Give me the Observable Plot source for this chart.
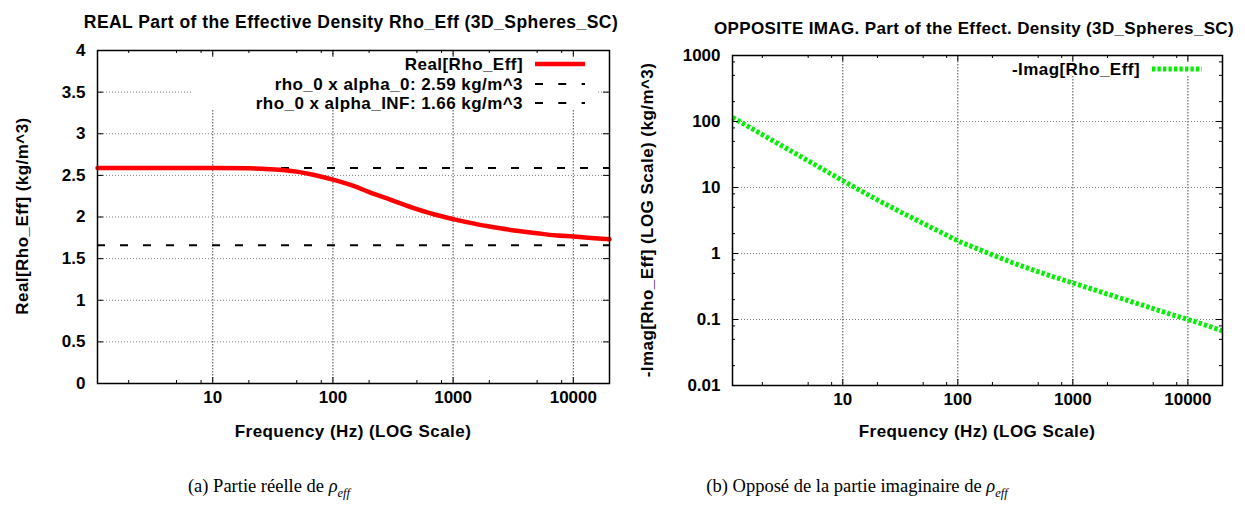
<!DOCTYPE html>
<html><head><meta charset="utf-8">
<script src="https://cdn.jsdelivr.net/npm/d3@7"></script>
<script src="https://cdn.jsdelivr.net/npm/@observablehq/plot@0.6"></script>
<style>
body{margin:0;background:#fff;}
#root{position:relative;width:1245px;height:506px;overflow:hidden;font-family:"Liberation Sans",Arial,sans-serif;color:#000;}
.abs{position:absolute;white-space:nowrap;line-height:1;}
.bold{font-weight:bold;font-size:17px;letter-spacing:0.45px;}
.ttl{font-size:17.5px;}
.ttl2{font-size:17px;letter-spacing:0.35px;}
.ctr{transform:translate(-50%,-50%);}
.rot{transform:translate(-50%,-50%) rotate(-90deg);}
.cap{font-family:"Liberation Serif","Times New Roman",serif;font-size:18.5px;transform:translate(-50%,-50%);}
.cap i sub{font-size:12.5px;}
.plot{position:absolute;top:0;}
.lbox{position:absolute;background:#fff;}
</style>
</head><body><div id="root"></div>
<script>
// ---------- data ----------
const freqReal = [1.1, 2, 5, 10, 20, 30, 40, 50, 70, 100, 150, 200, 300, 500, 700, 1000, 1500, 2000, 3000, 5000, 7000, 10000, 15000, 20000];
const realRhoEff = [2.59, 2.59, 2.59, 2.589, 2.585, 2.575, 2.562, 2.545, 2.505, 2.448, 2.37, 2.30, 2.21, 2.095, 2.03, 1.975, 1.92, 1.885, 1.845, 1.805, 1.78, 1.765, 1.745, 1.732];
const refNames = ["rho_0 x alpha_0: 2.59 kg/m^3", "rho_0 x alpha_INF: 1.66 kg/m^3"];
const refValues = [2.59, 1.66];

const freqImag = [1.1, 2, 3, 5, 10, 20, 30, 50, 70, 100, 150, 200, 300, 500, 700, 1000, 2000, 3000, 5000, 7000, 10000, 15000, 20000];
const negImagRhoEff = [115, 63.3, 42.2, 25.4, 12.7, 6.5, 4.48, 2.86, 2.13, 1.56, 1.17, 0.955, 0.724, 0.53, 0.436, 0.358, 0.243, 0.194, 0.146, 0.121, 0.100, 0.080, 0.067];

const xDomain = [1.1, 20000];
const xMajorTicks = [10, 100, 1000, 10000];
const xTickLabels = ["10", "100", "1000", "10000"];
const minorMultipliers = [2, 5, 8];
const xDecades = [1, 10, 100, 1000, 10000];
const yTicksReal = [0, 0.5, 1, 1.5, 2, 2.5, 3, 3.5, 4];
const yTickLabelsReal = ["0", "0.5", "1", "1.5", "2", "2.5", "3", "3.5", "4"];
const yTicksImag = [0.01, 0.1, 1, 10, 100, 1000];
const yTickLabelsImag = ["0.01", "0.1", "1", "10", "100", "1000"];
const yDecadesImag = [0.01, 0.1, 1, 10, 100];

const titles = ["REAL Part of the Effective Density Rho_Eff (3D_Spheres_SC)", "OPPOSITE IMAG. Part of the Effect. Density (3D_Spheres_SC)"];
const yLabels = ["Real[Rho_Eff] (kg/m^3)", "-Imag[Rho_Eff] (LOG Scale) (kg/m^3)"];
const xLabel = "Frequency (Hz) (LOG Scale)";
const seriesNames = ["Real[Rho_Eff]", "-Imag[Rho_Eff]"];

const RED = "#ff0000", GREEN = "#00f000";
const GREEN_DASH = "3.3,2.2";

// ---------- helpers ----------
const xMinor = xDecades.flatMap(d => minorMultipliers.map(m => m * d)).filter(v => v >= xDomain[0] && v <= xDomain[1]);
const yMinorImag = yDecadesImag.flatMap(d => minorMultipliers.map(m => m * d));
const realData = freqReal.map((f, i) => ({f, v: realRhoEff[i]}));
const imagData = freqImag.map((f, i) => ({f, v: negImagRhoEff[i]}));
const refData = refValues.map((v, i) => ({v, name: refNames[i]}));
const xTickData = xMajorTicks.map((v, i) => ({v, label: xTickLabels[i]}));

const FONT = '"Liberation Sans", Arial, sans-serif';
const gridStyleH = () => ({stroke: "#808080", strokeOpacity: 1, strokeWidth: 1, strokeDasharray: "1,2"});
const gridStyleV = () => ({stroke: "#666666", strokeOpacity: 1, strokeWidth: 1.2, strokeDasharray: "1.5,1.5"});

function frameTicks(W, H, mL, mR, mT, mB, xMaj, xMin, yMaj, yMin) {
  const fw = W - mL - mR, fh = H - mT - mB;
  const MAJ = 6, MIN = 3;
  const m = [];
  const st = () => ({stroke: "#000", strokeWidth: 1});
  m.push(Plot.tickX(xMaj, {x: d => d, insetTop: fh - MAJ, ...st()}));
  m.push(Plot.tickX(xMaj, {x: d => d, insetBottom: fh - MAJ, ...st()}));
  m.push(Plot.tickX(xMin, {x: d => d, insetTop: fh - MIN, ...st()}));
  m.push(Plot.tickX(xMin, {x: d => d, insetBottom: fh - MIN, ...st()}));
  m.push(Plot.tickY(yMaj, {y: d => d, insetRight: fw - MAJ, ...st()}));
  m.push(Plot.tickY(yMaj, {y: d => d, insetLeft: fw - MAJ, ...st()}));
  if (yMin.length) {
    m.push(Plot.tickY(yMin, {y: d => d, insetRight: fw - MIN, ...st()}));
    m.push(Plot.tickY(yMin, {y: d => d, insetLeft: fw - MIN, ...st()}));
  }
  return m;
}
function tickLabels(yTicks, yLabelsArr) {
  const yData = yTicks.map((v, i) => ({v, label: yLabelsArr[i]}));
  return [
    Plot.text(xTickData, {x: "v", text: "label", frameAnchor: "bottom", dy: 19, fill: "#000"}),
    Plot.text(yData, {y: "v", text: "label", frameAnchor: "left", textAnchor: "end", dx: -12, fill: "#000"})
  ];
}

const root = document.getElementById("root");
function addDiv(cls, html, css) {
  const d = document.createElement("div");
  d.className = cls; d.innerHTML = html;
  Object.assign(d.style, css);
  root.appendChild(d);
  return d;
}

// ---------- left plot ----------
const L = {W: 622, H: 445, mL: 97, mR: 13, mT: 50, mB: 62};
const left = Plot.plot({
  width: L.W, height: L.H, marginLeft: L.mL, marginRight: L.mR, marginTop: L.mT, marginBottom: L.mB,
  style: {fontFamily: FONT, fontWeight: "bold", fontSize: "17px", color: "#000", background: "transparent", overflow: "visible"},
  x: {type: "log", domain: xDomain, axis: null},
  y: {domain: [0, 4], axis: null},
  marks: [
    Plot.ruleX(xMajorTicks, {x: d => d, ...gridStyleV()}),
    Plot.ruleY(yTicksReal.filter(v => v > 0 && v < 4), {y: d => d, ...gridStyleH()}),
    Plot.ruleY(refData, {y: "v", stroke: "#000", strokeWidth: 2, strokeDasharray: "8,15", strokeLinecap: "butt"}),
    Plot.line(realData, {x: "f", y: "v", stroke: RED, strokeWidth: 4.5, curve: "monotone-x"}),
    Plot.frame({stroke: "#000", strokeWidth: 1.5}),
    ...frameTicks(L.W, L.H, L.mL, L.mR, L.mT, L.mB, xMajorTicks, xMinor, yTicksReal, []),
    ...tickLabels(yTicksReal, yTickLabelsReal)
  ]
});
left.classList.add("plot"); left.style.left = "0px";
root.appendChild(left);

// ---------- right plot ----------
const R = {W: 623, H: 445, mL: 110, mR: 23, mT: 55, mB: 60};
const right = Plot.plot({
  width: R.W, height: R.H, marginLeft: R.mL, marginRight: R.mR, marginTop: R.mT, marginBottom: R.mB,
  style: {fontFamily: FONT, fontWeight: "bold", fontSize: "17px", color: "#000", background: "transparent", overflow: "visible"},
  x: {type: "log", domain: xDomain, axis: null},
  y: {type: "log", domain: [0.01, 1000], axis: null},
  marks: [
    Plot.ruleX(xMajorTicks, {x: d => d, ...gridStyleV()}),
    Plot.ruleY(yTicksImag.filter(v => v > 0.01 && v < 1000), {y: d => d, ...gridStyleH()}),
    Plot.line(imagData, {x: "f", y: "v", stroke: GREEN, strokeWidth: 5, strokeDasharray: GREEN_DASH, strokeLinecap: "butt", strokeLinejoin: "miter", curve: "monotone-x"}),
    Plot.frame({stroke: "#000", strokeWidth: 1.5}),
    ...frameTicks(R.W, R.H, R.mL, R.mR, R.mT, R.mB, xMajorTicks, xMinor, yTicksImag, yMinorImag),
    ...tickLabels(yTicksImag, yTickLabelsImag)
  ]
});
right.classList.add("plot"); right.style.left = "622px";
root.appendChild(right);

// ---------- texts ----------
addDiv("abs bold ttl ctr", titles[0], {left: "351px", top: "23px"});
addDiv("abs bold ttl2 ctr", titles[1], {left: "974px", top: "28px"});
addDiv("abs bold rot", yLabels[0], {left: "22px", top: "216px"});
addDiv("abs bold rot", yLabels[1], {left: "647px", top: "220px"});
addDiv("abs bold ctr", xLabel, {left: "353px", top: "431px"});
addDiv("abs bold ctr", xLabel, {left: "977px", top: "431px"});

// ---------- legends ----------
addDiv("lbox", "", {left: "193px", top: "57px", width: "405px", height: "53px"});
addDiv("lbox", "", {left: "1005px", top: "62px", width: "211px", height: "14px"});
function legendRow(textRight, sampleLeft, y, text, stroke, sw, dash) {
  addDiv("abs bold", text, {right: (1245 - textRight) + "px", top: y + "px", transform: "translateY(-50%)"});
  const svg = `<svg width="50" height="10" style="display:block"><line x1="0" x2="50" y1="5" y2="5" stroke="${stroke}" stroke-width="${sw}" ${dash ? `stroke-dasharray="${dash}"` : ""}/></svg>`;
  addDiv("abs", svg, {left: sampleLeft + "px", top: (y - 5) + "px"});
}
legendRow(523, 535, 64, seriesNames[0], RED, 4.5, null);
legendRow(523, 535, 84, refNames[0], "#000", 2, "8,15.3");
legendRow(523, 535, 103, refNames[1], "#000", 2, "8,15.3");
legendRow(1140, 1152, 69, seriesNames[1], GREEN, 5, GREEN_DASH);

// ---------- captions ----------
addDiv("abs cap", '(a) Partie réelle de <i>ρ<sub>eff</sub></i>', {left: "269px", top: "488px"});
addDiv("abs cap", '(b) Opposé de la partie imaginaire de <i>ρ<sub>eff</sub></i>', {left: "857px", top: "488px"});
</script></body></html>
